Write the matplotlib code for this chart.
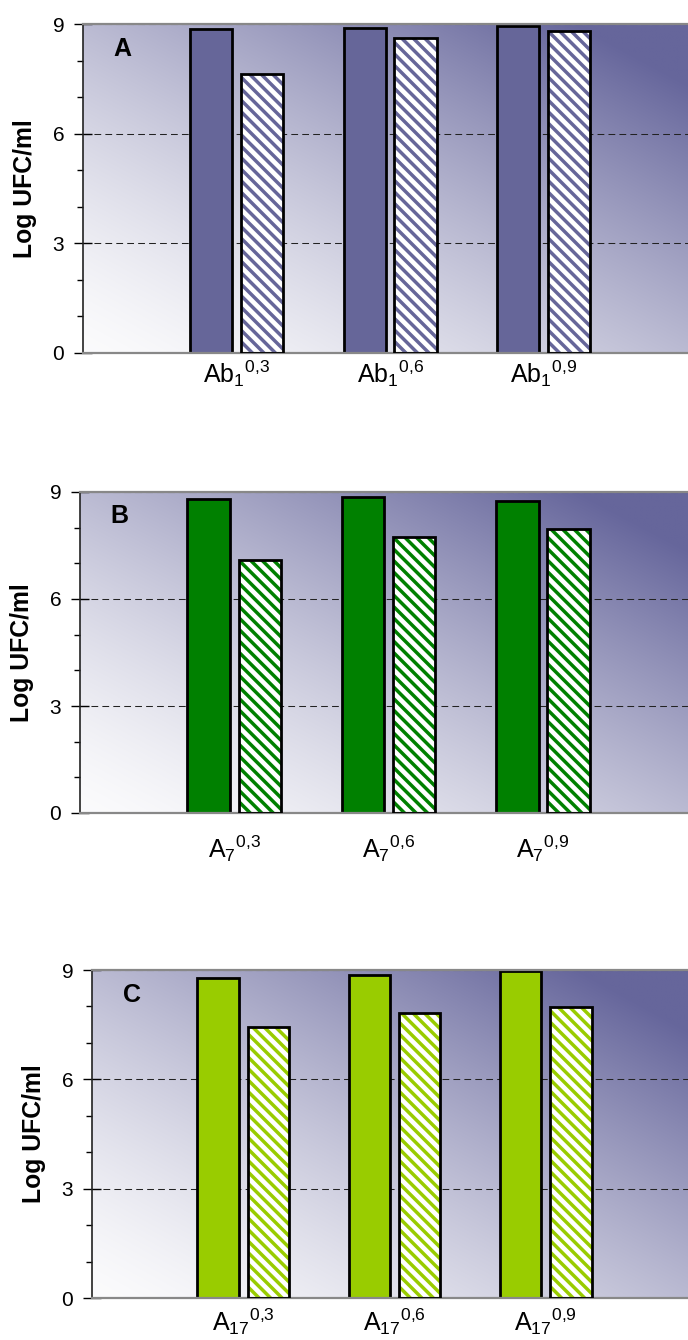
import matplotlib.pyplot as plt
import numpy as np
from matplotlib.lines import Line2D
from matplotlib.transforms import IdentityTransform
from matplotlib.ticker import MultipleLocator

plt.rcParams['font.family'] = ['Liberation Sans', 'DejaVu Sans']
plt.rcParams['mathtext.fontset'] = 'custom'
plt.rcParams['mathtext.rm'] = 'Liberation Sans'
plt.rcParams['mathtext.it'] = 'Liberation Sans:italic'
plt.rcParams['mathtext.bf'] = 'Liberation Sans:bold'

# data
letters = ['A', 'B', 'C']
labels_a = [r'$\mathrm{Ab}_{1}{}^{0{,}3}$', r'$\mathrm{Ab}_{1}{}^{0{,}6}$', r'$\mathrm{Ab}_{1}{}^{0{,}9}$']
labels_b = [r'$\mathrm{A}_{7}{}^{0{,}3}$', r'$\mathrm{A}_{7}{}^{0{,}6}$', r'$\mathrm{A}_{7}{}^{0{,}9}$']
labels_c = [r'$\mathrm{A}_{17}{}^{0{,}3}$', r'$\mathrm{A}_{17}{}^{0{,}6}$', r'$\mathrm{A}_{17}{}^{0{,}9}$']
solid_a = [8.85, 8.89, 8.94]
hatch_a = [7.64, 8.62, 8.81]
solid_b = [8.80, 8.86, 8.75]
hatch_b = [7.09, 7.74, 7.96]
solid_c = [8.78, 8.86, 8.97]
hatch_c = [7.44, 7.82, 7.99]

colors = ['#666699', '#008000', '#99cc00']
# panel rects in pixels: left, top, bottom
rects = [(83, 24, 353), (80, 492, 813), (92, 970, 1298)]
xpads = [4, 15, 6]

W, H = 688, 1340
fig = plt.figure(figsize=(W / 100, H / 100), dpi=100)

# background gradient (bottom-left white -> top-right slate)
g = np.linspace(0, 1, 300)
U, V = np.meshgrid(g, g)
t = np.clip((U + V) / 2 * 1.1, 0, 1) ** 1.4
c0 = np.array([0.985, 0.985, 0.99])
c1 = np.array([0.40, 0.40, 0.61])
grad = c0 + (c1 - c0) * t[..., None]


def stripes(ax, bars, color, step=11.5, lw=2.5):
    for p in bars:
        (x0, y0), (x1, y1) = ax.transData.transform(
            [(p.get_x(), p.get_y()), (p.get_x() + p.get_width(), p.get_y() + p.get_height())])
        for c in np.arange(x0 + y0, x1 + y1 + step, step):
            ln = Line2D([x0 - 20, x1 + 20], [c - x0 + 20, c - x1 - 20],
                        transform=IdentityTransform(), color=color, lw=lw,
                        zorder=2.5, solid_capstyle='butt')
            ax.add_line(ln)
            ln.set_clip_path(p)


panels = [(solid_a, hatch_a, labels_a), (solid_b, hatch_b, labels_b), (solid_c, hatch_c, labels_c)]
x = np.arange(3)
w = 0.275
off = 0.166

for i, (solid, hatch, labels) in enumerate(panels):
    left, top, bottom = rects[i]
    ax = fig.add_axes([left / W, 1 - bottom / H, (W - left) / W, (bottom - top) / H])
    ax.set_facecolor('none')
    ax.imshow(grad, extent=[0, 1, 0, 1], transform=ax.transAxes, origin='lower',
              aspect='auto', zorder=0, interpolation='bilinear')
    ax.set_xlim(-1, 2.94)
    ax.set_ylim(0, 9)

    ax.bar(x - off, solid, w, color=colors[i], edgecolor='black', linewidth=2, zorder=2)
    hb = ax.bar(x + off, hatch, w, color='white', edgecolor='none', zorder=2)
    stripes(ax, hb, colors[i])
    ax.bar(x + off, hatch, w, fill=False, edgecolor='black', linewidth=2, zorder=3)

    ax.set_axisbelow(True)
    ax.set_yticks([0, 3, 6, 9])
    ax.yaxis.set_minor_locator(MultipleLocator(1))
    ax.yaxis.grid(True, which='major', color='#222222', linestyle=(0, (6.5, 4)), linewidth=0.75)
    ax.tick_params(axis='y', which='major', direction='inout', length=13, width=1,
                   labelsize=15, pad=7)
    ax.tick_params(axis='y', which='minor', direction='out', length=4, width=1)
    ax.set_xticks(x, labels)
    ax.tick_params(axis='x', length=0, labelsize=18, pad=xpads[i])

    ax.spines['right'].set_visible(False)
    ax.spines['top'].set_color('#888888')
    ax.spines['top'].set_linewidth(1.6)
    ax.spines['bottom'].set_color('#888888')
    ax.spines['bottom'].set_linewidth(1.6)
    ax.spines['left'].set_color('#222222')
    ax.spines['left'].set_linewidth(1.2)

    ax.set_ylabel('Log UFC/ml', fontsize=17.8, fontweight='bold')
    ax.yaxis.set_label_coords(-46 / (W - left), 0.5)
    ax.annotate(letters[i], xy=(0, 1), xycoords='axes fraction', xytext=(22, -9),
                textcoords='offset points', ha='left', va='top', fontsize=18, fontweight='bold')

fig.savefig('out.png', dpi=100)
